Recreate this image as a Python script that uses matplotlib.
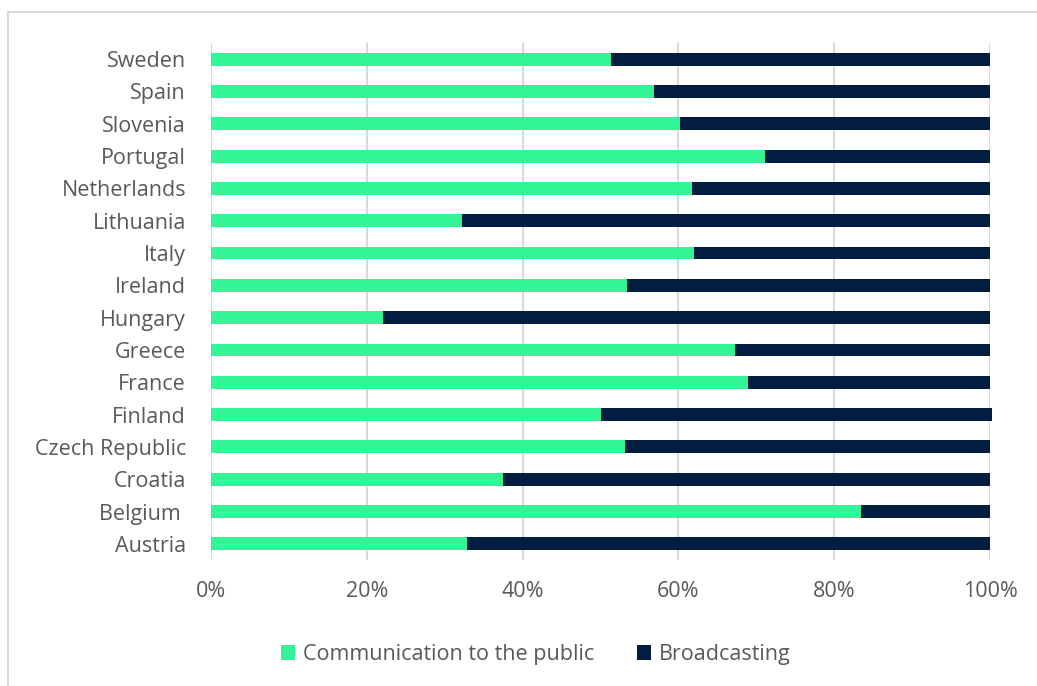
import matplotlib.pyplot as plt
from matplotlib.patches import Rectangle
from matplotlib.ticker import PercentFormatter

countries = ["Austria", "Belgium ", "Croatia", "Czech Republic", "Finland", "France",
             "Greece", "Hungary", "Ireland", "Italy", "Lithuania", "Netherlands",
             "Portugal", "Slovenia", "Spain", "Sweden"]
communication = [32.9, 83.4, 37.5, 53.1, 50.1, 68.9, 67.3, 22.1, 53.4, 62.0, 32.2, 61.7,
                 71.1, 60.2, 56.9, 51.3]
broadcasting = [67.1, 16.6, 62.5, 46.9, 50.2, 31.1, 32.7, 77.9, 46.6, 38.0, 67.8, 38.3,
                28.9, 39.8, 43.1, 48.7]

green = "#33F598"
navy = "#031D40"
text_grey = "#595959"

plt.rcParams["font.family"] = ["Open Sans", "DejaVu Sans"]

fig = plt.figure(figsize=(10.37, 6.86), dpi=100)
ax = fig.add_axes([0.2035, 0.1837, 0.7512, 0.7536])

# chart frame
fig.patches.append(Rectangle((8 / 1037, -0.05), 1.2, 1 - 12 / 686 + 0.05,
                             transform=fig.transFigure, fill=False,
                             edgecolor="#D9D9D9", linewidth=1.5))

ypos = range(len(countries))
ax.barh(ypos, communication, height=0.4, color=green, label="Communication to the public",
        zorder=3, clip_on=False)
ax.barh(ypos, broadcasting, left=communication, height=0.4, color=navy,
        label="Broadcasting", zorder=3, clip_on=False)

ax.set_xlim(0, 100)
ax.set_ylim(-0.5, len(countries) - 0.5)
ax.set_xticks(range(0, 101, 20))
ax.xaxis.set_major_formatter(PercentFormatter(decimals=0))
ax.set_yticks(list(ypos))
ax.set_yticklabels(countries)
ax.grid(axis="x", color="#D9D9D9", linewidth=1.5, zorder=0)
ax.tick_params(length=0, labelsize=15.5, colors=text_grey)
ax.tick_params(axis="x", pad=15)
ax.tick_params(axis="y", pad=18)
for s in ax.spines.values():
    s.set_visible(False)

ax.legend(loc="upper center", bbox_to_anchor=(0.417, -0.125), ncol=2, frameon=False,
          fontsize=15.5, labelcolor=text_grey, handlelength=0.65, handleheight=0.65,
          handletextpad=0.35, columnspacing=2.0)

fig.savefig("out.png", dpi=100)
